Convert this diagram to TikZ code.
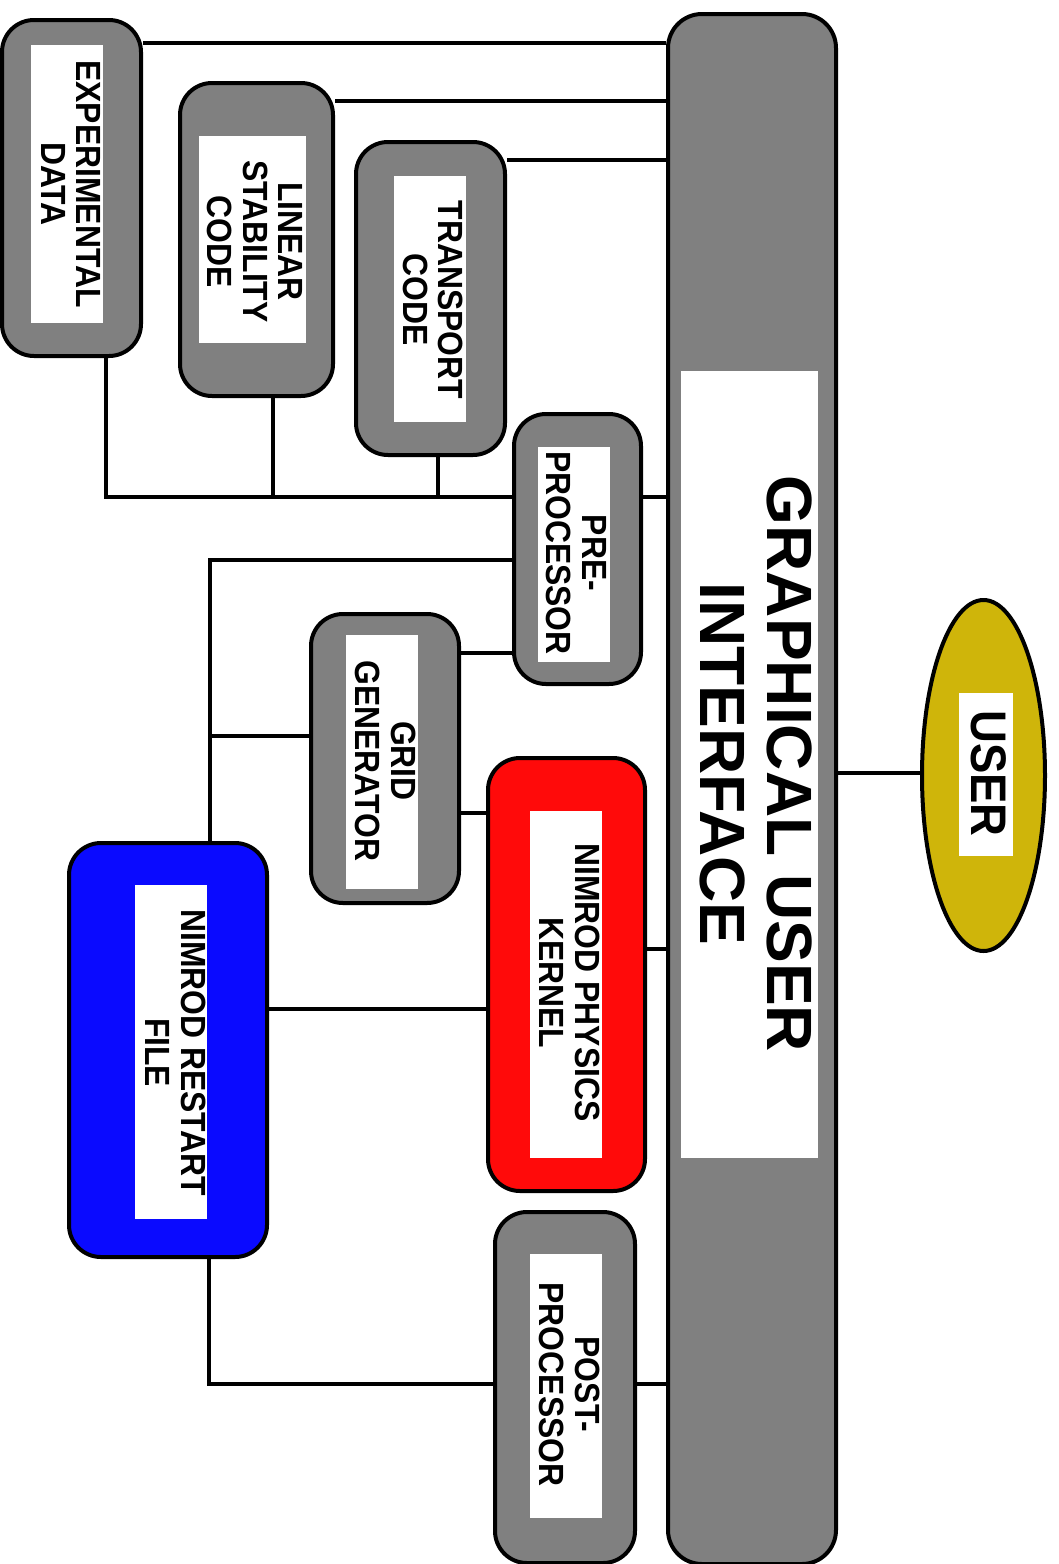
\documentclass[tikz,border=0pt]{standalone}
\usepackage{fontspec}
\setmainfont{Liberation Sans}
\newfontfamily\lblfont{Liberation Sans}[FakeStretch=0.91]
\usetikzlibrary{shapes.geometric,backgrounds}
\definecolor{boxgray}{RGB}{128,128,128}
\definecolor{kernred}{RGB}{255,10,10}
\definecolor{fileblue}{RGB}{10,10,255}
\definecolor{useryellow}{RGB}{207,181,10}
\begin{document}
\begin{tikzpicture}[x=1pt,y=-1pt,
  box/.style={rectangle, draw=black, line width=4pt, rounded corners=32pt, inner sep=0pt},
  graybox/.style={box, fill=boxgray},
  labelbg/.style={rectangle, fill=white, draw=none, inner sep=0pt},
  lbl/.style={font=\lblfont\bfseries\fontsize{35}{35.5}\selectfont, align=center, rotate=-90, inner sep=0pt},
  conn/.style={draw=black, line width=4pt}]
\useasboundingbox (0,0) rectangle (1058,1564);

% boxes
\node[graybox, minimum width=139pt, minimum height=336pt] (exp) at (71.5,188) {};
\node[graybox, minimum width=153pt, minimum height=313pt] (lin) at (256.5,239.5) {};
\node[graybox, minimum width=149pt, minimum height=313pt] (tra) at (430.5,298.5) {};
\node[graybox, minimum width=127pt, minimum height=270pt] (pre) at (577.5,549) {};
\node[graybox, minimum width=148pt, minimum height=289pt] (grid) at (385,758.5) {};
\node[box, fill=kernred, minimum width=157pt, minimum height=433pt] (kern) at (566.5,974.5) {};
\node[box, fill=fileblue, minimum width=198pt, minimum height=414pt] (rst) at (168,1050) {};
\node[graybox, minimum width=140pt, minimum height=351pt] (post) at (565,1387.5) {};
\node[graybox, rounded corners=34pt, minimum width=168pt, minimum height=1550pt] (gui) at (752,789) {};
\node[ellipse, draw=black, line width=4pt, fill=useryellow, inner sep=0pt, minimum width=123pt, minimum height=351pt] (user) at (983.5,775.5) {};

% label backgrounds
\node[labelbg, minimum width=72pt, minimum height=278pt] (expbg) at (67,184) {};
\node[labelbg, minimum width=107pt, minimum height=207pt] (linbg) at (252.5,239.5) {};
\node[labelbg, minimum width=72pt, minimum height=246pt] (trabg) at (430,299) {};
\node[labelbg, minimum width=72pt, minimum height=215pt] (prebg) at (574,554.5) {};
\node[labelbg, minimum width=72pt, minimum height=254pt] (gridbg) at (382,762) {};
\node[labelbg, minimum width=72pt, minimum height=347pt] (kernbg) at (566,984.5) {};
\node[labelbg, minimum width=72pt, minimum height=334pt] (rstbg) at (171,1052) {};
\node[labelbg, minimum width=72pt, minimum height=264pt] (postbg) at (566,1386) {};
\node[labelbg, minimum width=137pt, minimum height=787pt] (guibg) at (749.5,764.5) {};
\node[labelbg, minimum width=54pt, minimum height=163pt] (userbg) at (986,774.5) {};

% texts
\node[lbl] (expt) at (71,184) {EXPERIMENTAL\\DATA};
\node[lbl] (lint) at (255,241.5) {LINEAR\\STABILITY\\CODE};
\node[lbl] (trat) at (433,300) {TRANSPORT\\CODE};
\node[lbl] (pret) at (576.5,553) {PRE-\\PROCESSOR};
\node[lbl] (gridt) at (385.5,761) {GRID\\GENERATOR};
\node[lbl] (kernt) at (569.5,982.5) {NIMROD PHYSICS\\KERNEL};
\node[lbl] (rstt) at (175.5,1052.5) {NIMROD RESTART\\FILE};
\node[lbl] (postt) at (569.5,1384.5) {POST-\\PROCESSOR};
\node[lbl, font=\lblfont\bfseries\fontsize{50}{52}\selectfont] (usert) at (989,773.5) {USER};
\node[lbl, font=\bfseries\fontsize{64}{67}\selectfont] (guit) at (756.5,764) {GRAPHICAL USER\\INTERFACE};

% connectors
\begin{scope}[on background layer]
\coordinate (bus1) at (106,497);
\coordinate (bus2) at (273,497);
\coordinate (bus3) at (438,497);
\coordinate (j1) at (210,560);
\coordinate (j2) at (210,736);
\coordinate (j3) at (209,1384);
\draw[conn] (exp.east |- 0,43) -- (gui.west |- 0,43);
\draw[conn] (lin.east |- 0,101) -- (gui.west |- 0,101);
\draw[conn] (tra.east |- 0,160) -- (gui.west |- 0,160);
\draw[conn] (exp.south -| bus1) -- (bus1) -- (pre.west |- bus1);
\draw[conn] (lin.south -| bus2) -- (bus2);
\draw[conn] (tra.south -| bus3) -- (bus3);
\draw[conn] (pre.east |- bus1) -- (gui.west |- bus1);
\draw[conn] (pre.west |- j1) -- (j1) -- (rst.north -| j1);
\draw[conn] (grid.west |- j2) -- (j2);
\draw[conn] (grid.east |- 0,653) -- (pre.west |- 0,653);
\draw[conn] (grid.east |- 0,813) -- (kern.west |- 0,813);
\draw[conn] (kern.east |- 0,949) -- (gui.west |- 0,949);
\draw[conn] (rst.east |- 0,1009) -- (kern.west |- 0,1009);
\draw[conn] (rst.south -| j3) -- (j3) -- (post.west |- j3);
\draw[conn] (post.east |- j3) -- (gui.west |- j3);
\draw[conn] (gui.east |- 0,773) -- (user.west |- 0,773);
\end{scope}
\end{tikzpicture}
\end{document}
